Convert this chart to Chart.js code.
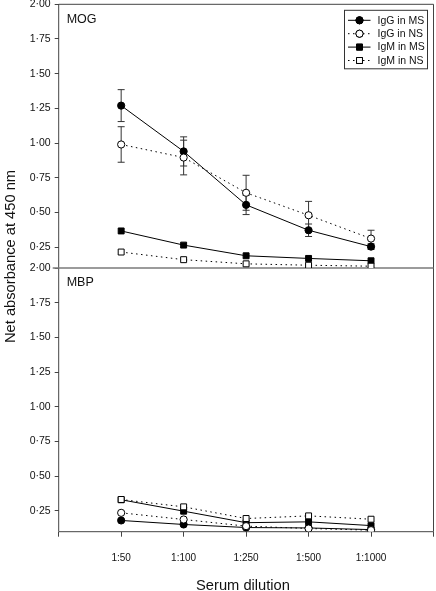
<!DOCTYPE html>
<html>
<head>
<meta charset="utf-8">
<script src="https://cdn.jsdelivr.net/npm/chart.js@4.4.0/dist/chart.umd.min.js"></script>
<style>
  html, body { margin: 0; padding: 0; background: #fff; }
  #wrap { position: relative; width: 436px; height: 591px; }
</style>
</head>
<body>
<div id="wrap"><canvas id="chart" width="436" height="591"></canvas></div>
<script>
'use strict';

// categories + ticks
const dilutions = ['1:50', '1:100', '1:250', '1:500', '1:1000'];
const yTickValues = [0.25, 0.5, 0.75, 1.0, 1.25, 1.5, 1.75, 2.0];
const seriesNames = ['IgG in MS', 'IgG in NS', 'IgM in MS', 'IgM in NS'];

// MOG panel (top)
const mogIgGMS = [1.27, 0.94, 0.555, 0.372, 0.254];
const mogIgGMSErr = [0.115, 0.105, 0.07, 0.045, 0.02];
const mogIgGNS = [0.99, 0.896, 0.642, 0.48, 0.312];
const mogIgGNSErr = [0.128, 0.125, 0.126, 0.1, 0.06];
const mogIgMMS = [0.367, 0.265, 0.188, 0.169, 0.152];
const mogIgMNS = [0.215, 0.16, 0.13, 0.12, 0.113];

// MBP panel (bottom)
const mbpIgGMS = [0.181, 0.152, 0.13, 0.127, 0.115];
const mbpIgGNS = [0.236, 0.188, 0.14, 0.123, 0.111];
const mbpIgMMS = [0.33, 0.248, 0.165, 0.171, 0.144];
const mbpIgMNS = [0.332, 0.279, 0.195, 0.214, 0.19];

const FONT = "'Liberation Sans', Arial, Helvetica, sans-serif";
const INK = '#111';
const DOTS = [1.5, 3.5];

// marker / line look per series (same order as seriesNames)
const looks = [
    { style: 'circle', fill: '#000', dash: [], radius: 3.6 },
    { style: 'circle', fill: '#fff', dash: DOTS, radius: 3.6 },
    { style: 'rect', fill: '#000', dash: [], radius: 4.2 },
    { style: 'rect', fill: '#fff', dash: DOTS, radius: 4.2 }
];

function makeSet(idx, values, errs, axis) {
    const lk = looks[idx];
    return {
        label: seriesNames[idx],
        data: values.map((v, i) => ({ x: i, y: v })),
        errors: errs || null,
        yAxisID: axis,
        borderColor: '#000',
        borderWidth: 1,
        borderDash: lk.dash,
        pointStyle: lk.style,
        pointRadius: lk.radius,
        pointBackgroundColor: lk.fill,
        pointBorderColor: '#000',
        pointBorderWidth: 1,
        fill: false,
        tension: 0,
        // open symbols sit on top of the filled ones
        order: idx % 2 === 1 ? 0 : 1
    };
}

const fmtTick = v => v.toFixed(2).replace('.', '\u00B7');

// no automatic label overflow padding, the frame is fixed
function noPad(s) {
    s.paddingLeft = 0;
    s.paddingRight = 0;
    s.paddingTop = 0;
    s.paddingBottom = 0;
}

// error bars under the markers
const errorBarPlugin = {
    id: 'errorBars',
    beforeDatasetsDraw(chart) {
        const ctx = chart.ctx;
        const xs = chart.scales.x;
        ctx.save();
        ctx.strokeStyle = '#333';
        ctx.lineWidth = 1;
        ctx.setLineDash([]);
        chart.data.datasets.forEach(ds => {
            if (!ds.errors) return;
            const ys = chart.scales[ds.yAxisID];
            ds.data.forEach((p, i) => {
                const e = ds.errors[i];
                if (!e) return;
                const x = xs.getPixelForValue(p.x);
                const y1 = ys.getPixelForValue(p.y + e);
                const y2 = ys.getPixelForValue(p.y - e);
                ctx.beginPath();
                ctx.moveTo(x, y1); ctx.lineTo(x, y2);
                ctx.moveTo(x - 3.5, y1); ctx.lineTo(x + 3.5, y1);
                ctx.moveTo(x - 3.5, y2); ctx.lineTo(x + 3.5, y2);
                ctx.stroke();
            });
        });
        ctx.restore();
    }
};

// panel boxes
const framePlugin = {
    id: 'frames',
    beforeDatasetsDraw(chart) {
        const ctx = chart.ctx;
        const a = chart.chartArea;
        const top = chart.scales.yMOG, bot = chart.scales.yMBP;
        ctx.save();
        ctx.strokeStyle = '#444';
        ctx.lineWidth = 1;
        ctx.beginPath();
        ctx.moveTo(a.left, top.top); ctx.lineTo(a.right, top.top);
        ctx.moveTo(a.right, top.top); ctx.lineTo(a.right, bot.bottom);
        ctx.moveTo(a.left, top.top); ctx.lineTo(a.left, bot.bottom);
        ctx.moveTo(a.left, bot.bottom); ctx.lineTo(a.right, bot.bottom);
        ctx.stroke();
        // separator between the panels
        ctx.strokeStyle = '#7a7a7a';
        ctx.lineWidth = 1.5;
        ctx.beginPath();
        ctx.moveTo(a.left - 6, bot.top); ctx.lineTo(a.right, bot.top);
        ctx.stroke();
        ctx.restore();
    }
};

// titles, panel names and the boxed legend
const textPlugin = {
    id: 'texts',
    afterDraw(chart) {
        const ctx = chart.ctx;
        const a = chart.chartArea;
        const top = chart.scales.yMOG, bot = chart.scales.yMBP;
        ctx.save();
        ctx.fillStyle = INK;

        ctx.font = '12.5px ' + FONT;
        ctx.textAlign = 'left';
        ctx.textBaseline = 'alphabetic';
        ctx.fillText('MOG', a.left + 8, top.top + 19);
        ctx.fillText('MBP', a.left + 8, bot.top + 18);

        ctx.font = '14.7px ' + FONT;
        ctx.textAlign = 'center';
        ctx.fillText('Serum dilution', 243, 590);

        ctx.save();
        ctx.translate(14.5, 256.5);
        ctx.rotate(-Math.PI / 2);
        ctx.fillText('Net absorbance at 450 nm', 0, 0);
        ctx.restore();

        // legend
        const bx = a.right - 89, by = top.top + 6, bw = 83, bh = 58.5;
        ctx.strokeStyle = '#333';
        ctx.lineWidth = 1;
        ctx.strokeRect(bx, by, bw, bh);
        ctx.font = '10.5px ' + FONT;
        ctx.textAlign = 'left';
        ctx.textBaseline = 'middle';
        seriesNames.forEach((name, i) => {
            const lk = looks[i];
            const ry = by + 10 + i * 13.4;
            ctx.strokeStyle = '#000';
            ctx.setLineDash(lk.dash);
            ctx.beginPath();
            ctx.moveTo(bx + 3.5, ry); ctx.lineTo(bx + 26, ry);
            ctx.stroke();
            ctx.setLineDash([]);
            Chart.helpers.drawPoint(ctx, {
                pointStyle: lk.style, radius: lk.radius, rotation: 0, borderWidth: 1
            }, bx + 15, ry);
            ctx.fillStyle = lk.fill;
            ctx.fill();
            ctx.stroke();
            ctx.fillStyle = INK;
            ctx.fillText(name, bx + 33, ry + 0.5);
        });
        ctx.restore();
    }
};

function yAxis(weight) {
    return {
        type: 'linear',
        position: 'left',
        stack: 'panels',
        stackWeight: 1,
        weight: weight,
        min: 0.1,
        max: 2.0,
        afterBuildTicks: s => { s.ticks = yTickValues.map(v => ({ value: v })); },
        afterFit: s => { s.width = 58.7; noPad(s); },
        border: { display: false },
        grid: { drawOnChartArea: false, drawTicks: true, tickLength: 4, color: '#444' },
        ticks: {
            color: INK,
            font: { family: FONT, size: 10.5 },
            padding: 4,
            callback: v => fmtTick(v)
        }
    };
}

const ctx = document.getElementById('chart').getContext('2d');
new Chart(ctx, {
    type: 'line',
    data: {
        datasets: [
            makeSet(0, mogIgGMS, mogIgGMSErr, 'yMOG'),
            makeSet(1, mogIgGNS, mogIgGNSErr, 'yMOG'),
            makeSet(2, mogIgMMS, null, 'yMOG'),
            makeSet(3, mogIgMNS, null, 'yMOG'),
            makeSet(0, mbpIgGMS, null, 'yMBP'),
            makeSet(1, mbpIgGNS, null, 'yMBP'),
            makeSet(2, mbpIgMMS, null, 'yMBP'),
            makeSet(3, mbpIgMNS, null, 'yMBP')
        ]
    },
    options: {
        responsive: false,
        animation: false,
        devicePixelRatio: 1,
        layout: { autoPadding: false, padding: { top: 4.3, right: 2.5, left: 0, bottom: 0 } },
        plugins: {
            legend: { display: false },
            tooltip: { enabled: false }
        },
        scales: {
            x: {
                type: 'linear',
                min: -1,
                max: 5,
                afterBuildTicks: s => {
                    s.ticks = [-1, 0, 1, 2, 3, 4, 5].map(v => ({ value: v }));
                },
                afterFit: s => { s.height = 59.3; noPad(s); },
                border: { display: false },
                grid: { drawOnChartArea: false, drawTicks: true, tickLength: 5, color: '#444' },
                ticks: {
                    autoSkip: false,
                    maxRotation: 0,
                    color: INK,
                    padding: 16,
                    font: { family: FONT, size: 10 },
                    callback: v => dilutions[v] || ''
                }
            },
            yMOG: yAxis(2),
            yMBP: yAxis(1)
        }
    },
    plugins: [framePlugin, errorBarPlugin, textPlugin]
});
</script>
</body>
</html>
